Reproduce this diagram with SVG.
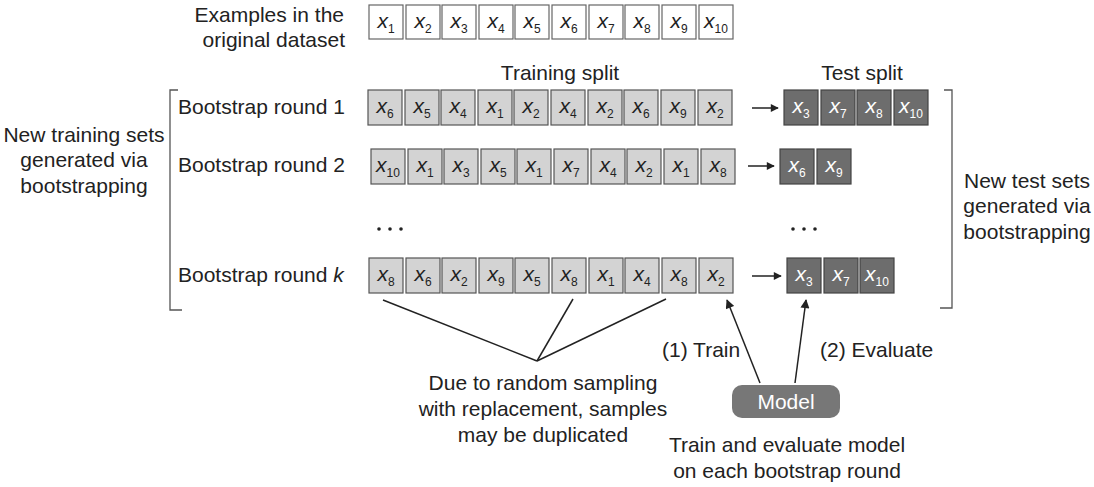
<svg xmlns="http://www.w3.org/2000/svg" width="1094" height="487" viewBox="0 0 1094 487">
<defs>
<style>
text{font-family:"Liberation Sans",Arial,sans-serif;fill:#222;}
.lbl{font-size:21px;}
.c{text-anchor:middle;}
.e{text-anchor:end;}
.orig{fill:#fff;stroke:#666;stroke-width:1.2;}
.tr{fill:#d3d3d3;stroke:#555;stroke-width:1.2;}
.te{fill:#6d6d6d;stroke:#444;stroke-width:1.2;}
.xv{font-size:21px;font-style:italic;text-anchor:middle;}
.xw{font-size:21px;font-style:italic;text-anchor:middle;fill:#fff;}
.sub{font-size:12px;font-style:normal;}
.ln{stroke:#222;stroke-width:1.5;fill:none;}
.br{stroke:#555;stroke-width:1.3;fill:none;}
.dot{fill:#222;}
</style>
<marker id="ah" viewBox="0 0 10 10" refX="9" refY="5" markerWidth="9" markerHeight="8" markerUnits="userSpaceOnUse" orient="auto"><path d="M0,0 L10,5 L0,10 z" fill="#222"/></marker>
<marker id="ah2" viewBox="0 0 10 10" refX="9" refY="5" markerWidth="11" markerHeight="9" markerUnits="userSpaceOnUse" orient="auto"><path d="M0,0 L10,5 L0,10 z" fill="#222"/></marker>
</defs>

<g id="labels">
<text class="lbl e" x="344" y="22">Examples in the</text>
<text class="lbl e" x="345" y="47">original dataset</text>
<text class="lbl c" x="560" y="80">Training split</text>
<text class="lbl c" x="862" y="80">Test split</text>
<text class="lbl" x="178" y="114">Bootstrap round 1</text>
<text class="lbl" x="178" y="172">Bootstrap round 2</text>
<text class="lbl" x="178" y="282">Bootstrap round <tspan font-style="italic">k</tspan></text>
<text class="lbl c" x="84" y="142">New training sets</text>
<text class="lbl c" x="84" y="167">generated via</text>
<text class="lbl c" x="84" y="193">bootstrapping</text>
<text class="lbl c" x="1027" y="188">New test sets</text>
<text class="lbl c" x="1027" y="213">generated via</text>
<text class="lbl c" x="1027" y="239">bootstrapping</text>
<text class="lbl" x="662" y="357">(1) Train</text>
<text class="lbl" x="820" y="357">(2) Evaluate</text>
<text class="lbl c" x="543" y="390">Due to random sampling</text>
<text class="lbl c" x="543" y="416">with replacement, samples</text>
<text class="lbl c" x="543" y="442">may be duplicated</text>
<text class="lbl c" x="787" y="452">Train and evaluate model</text>
<text class="lbl c" x="787" y="478">on each bootstrap round</text>
</g>

<g id="ellipses">
<circle class="dot" cx="379" cy="229" r="1.8"/><circle class="dot" cx="390" cy="229" r="1.8"/><circle class="dot" cx="401" cy="229" r="1.8"/>
<circle class="dot" cx="793" cy="229" r="1.8"/><circle class="dot" cx="804" cy="229" r="1.8"/><circle class="dot" cx="815" cy="229" r="1.8"/>
</g>

<g id="original">
<rect class="orig" x="369" y="5" width="34" height="34"/><rect class="orig" x="406" y="5" width="34" height="34"/><rect class="orig" x="442" y="5" width="34" height="34"/><rect class="orig" x="479" y="5" width="34" height="34"/><rect class="orig" x="515" y="5" width="34" height="34"/><rect class="orig" x="552" y="5" width="34" height="34"/><rect class="orig" x="589" y="5" width="34" height="34"/><rect class="orig" x="625" y="5" width="34" height="34"/><rect class="orig" x="662" y="5" width="34" height="34"/><rect class="orig" x="699" y="5" width="34" height="34"/>
<text class="xv" x="386" y="28">x<tspan class="sub" dy="5">1</tspan></text>
<text class="xv" x="423" y="28">x<tspan class="sub" dy="5">2</tspan></text>
<text class="xv" x="459" y="28">x<tspan class="sub" dy="5">3</tspan></text>
<text class="xv" x="496" y="28">x<tspan class="sub" dy="5">4</tspan></text>
<text class="xv" x="532" y="28">x<tspan class="sub" dy="5">5</tspan></text>
<text class="xv" x="569" y="28">x<tspan class="sub" dy="5">6</tspan></text>
<text class="xv" x="606" y="28">x<tspan class="sub" dy="5">7</tspan></text>
<text class="xv" x="642" y="28">x<tspan class="sub" dy="5">8</tspan></text>
<text class="xv" x="679" y="28">x<tspan class="sub" dy="5">9</tspan></text>
<text class="xv" x="716" y="28">x<tspan class="sub" dy="5">10</tspan></text>
</g>

<g id="round1-train">
<rect class="tr" x="368" y="90" width="34" height="35"/><rect class="tr" x="405" y="90" width="34" height="35"/><rect class="tr" x="441" y="90" width="34" height="35"/><rect class="tr" x="478" y="90" width="34" height="35"/><rect class="tr" x="514" y="90" width="34" height="35"/><rect class="tr" x="551" y="90" width="34" height="35"/><rect class="tr" x="588" y="90" width="34" height="35"/><rect class="tr" x="624" y="90" width="34" height="35"/><rect class="tr" x="661" y="90" width="34" height="35"/><rect class="tr" x="698" y="90" width="34" height="35"/>
<text class="xv" x="385" y="113">x<tspan class="sub" dy="5">6</tspan></text>
<text class="xv" x="422" y="113">x<tspan class="sub" dy="5">5</tspan></text>
<text class="xv" x="458" y="113">x<tspan class="sub" dy="5">4</tspan></text>
<text class="xv" x="495" y="113">x<tspan class="sub" dy="5">1</tspan></text>
<text class="xv" x="531" y="113">x<tspan class="sub" dy="5">2</tspan></text>
<text class="xv" x="568" y="113">x<tspan class="sub" dy="5">4</tspan></text>
<text class="xv" x="605" y="113">x<tspan class="sub" dy="5">2</tspan></text>
<text class="xv" x="641" y="113">x<tspan class="sub" dy="5">6</tspan></text>
<text class="xv" x="678" y="113">x<tspan class="sub" dy="5">9</tspan></text>
<text class="xv" x="715" y="113">x<tspan class="sub" dy="5">2</tspan></text>
</g>

<g id="round1-test">
<rect class="te" x="784" y="90" width="34" height="35"/><rect class="te" x="821" y="90" width="34" height="35"/><rect class="te" x="857" y="90" width="34" height="35"/><rect class="te" x="894" y="90" width="34" height="35"/>
<text class="xw" x="801" y="113">x<tspan class="sub" dy="5">3</tspan></text>
<text class="xw" x="838" y="113">x<tspan class="sub" dy="5">7</tspan></text>
<text class="xw" x="874" y="113">x<tspan class="sub" dy="5">8</tspan></text>
<text class="xw" x="911" y="113">x<tspan class="sub" dy="5">10</tspan></text>
</g>

<g id="round2-train">
<rect class="tr" x="371" y="149" width="34" height="35"/><rect class="tr" x="408" y="149" width="34" height="35"/><rect class="tr" x="444" y="149" width="34" height="35"/><rect class="tr" x="481" y="149" width="34" height="35"/><rect class="tr" x="517" y="149" width="34" height="35"/><rect class="tr" x="554" y="149" width="34" height="35"/><rect class="tr" x="591" y="149" width="34" height="35"/><rect class="tr" x="627" y="149" width="34" height="35"/><rect class="tr" x="664" y="149" width="34" height="35"/><rect class="tr" x="701" y="149" width="34" height="35"/>
<text class="xv" x="388" y="172">x<tspan class="sub" dy="5">10</tspan></text>
<text class="xv" x="425" y="172">x<tspan class="sub" dy="5">1</tspan></text>
<text class="xv" x="461" y="172">x<tspan class="sub" dy="5">3</tspan></text>
<text class="xv" x="498" y="172">x<tspan class="sub" dy="5">5</tspan></text>
<text class="xv" x="534" y="172">x<tspan class="sub" dy="5">1</tspan></text>
<text class="xv" x="571" y="172">x<tspan class="sub" dy="5">7</tspan></text>
<text class="xv" x="608" y="172">x<tspan class="sub" dy="5">4</tspan></text>
<text class="xv" x="644" y="172">x<tspan class="sub" dy="5">2</tspan></text>
<text class="xv" x="681" y="172">x<tspan class="sub" dy="5">1</tspan></text>
<text class="xv" x="718" y="172">x<tspan class="sub" dy="5">8</tspan></text>
</g>

<g id="round2-test">
<rect class="te" x="780" y="149" width="34" height="35"/><rect class="te" x="817" y="149" width="34" height="35"/>
<text class="xw" x="797" y="172">x<tspan class="sub" dy="5">6</tspan></text>
<text class="xw" x="834" y="172">x<tspan class="sub" dy="5">9</tspan></text>
</g>

<g id="roundk-train">
<rect class="tr" x="369" y="258" width="34" height="35"/><rect class="tr" x="406" y="258" width="34" height="35"/><rect class="tr" x="442" y="258" width="34" height="35"/><rect class="tr" x="479" y="258" width="34" height="35"/><rect class="tr" x="515" y="258" width="34" height="35"/><rect class="tr" x="552" y="258" width="34" height="35"/><rect class="tr" x="589" y="258" width="34" height="35"/><rect class="tr" x="625" y="258" width="34" height="35"/><rect class="tr" x="662" y="258" width="34" height="35"/><rect class="tr" x="699" y="258" width="34" height="35"/>
<text class="xv" x="386" y="281">x<tspan class="sub" dy="5">8</tspan></text>
<text class="xv" x="423" y="281">x<tspan class="sub" dy="5">6</tspan></text>
<text class="xv" x="459" y="281">x<tspan class="sub" dy="5">2</tspan></text>
<text class="xv" x="496" y="281">x<tspan class="sub" dy="5">9</tspan></text>
<text class="xv" x="532" y="281">x<tspan class="sub" dy="5">5</tspan></text>
<text class="xv" x="569" y="281">x<tspan class="sub" dy="5">8</tspan></text>
<text class="xv" x="606" y="281">x<tspan class="sub" dy="5">1</tspan></text>
<text class="xv" x="642" y="281">x<tspan class="sub" dy="5">4</tspan></text>
<text class="xv" x="679" y="281">x<tspan class="sub" dy="5">8</tspan></text>
<text class="xv" x="716" y="281">x<tspan class="sub" dy="5">2</tspan></text>
</g>

<g id="roundk-test">
<rect class="te" x="787" y="258" width="34" height="35"/><rect class="te" x="824" y="258" width="34" height="35"/><rect class="te" x="860" y="258" width="34" height="35"/>
<text class="xw" x="804" y="281">x<tspan class="sub" dy="5">3</tspan></text>
<text class="xw" x="841" y="281">x<tspan class="sub" dy="5">7</tspan></text>
<text class="xw" x="877" y="281">x<tspan class="sub" dy="5">10</tspan></text>
</g>

<g id="model">
<rect x="732" y="385" width="108" height="33" rx="10" ry="10" fill="#777"/>
<text class="lbl c" x="786" y="409" style="fill:#fff">Model</text>
</g>

<g id="brackets">
<path class="br" d="M178,90 H170 V310 H182"/>
<path class="br" d="M944,90 H952 V308 H940"/>
</g>

<g id="connectors">
<line class="ln" x1="752" y1="108" x2="778" y2="108" marker-end="url(#ah)"/>
<line class="ln" x1="748" y1="166" x2="774" y2="166" marker-end="url(#ah)"/>
<line class="ln" x1="752" y1="276" x2="781" y2="276" marker-end="url(#ah)"/>
<line class="ln" x1="383" y1="300" x2="537" y2="361"/>
<line class="ln" x1="573" y1="299" x2="537" y2="361"/>
<line class="ln" x1="666" y1="299" x2="537" y2="361"/>
<line class="ln" x1="760" y1="383" x2="727" y2="300" marker-end="url(#ah2)"/>
<line class="ln" x1="795" y1="383" x2="806" y2="300" marker-end="url(#ah2)"/>
</g>
</svg>
